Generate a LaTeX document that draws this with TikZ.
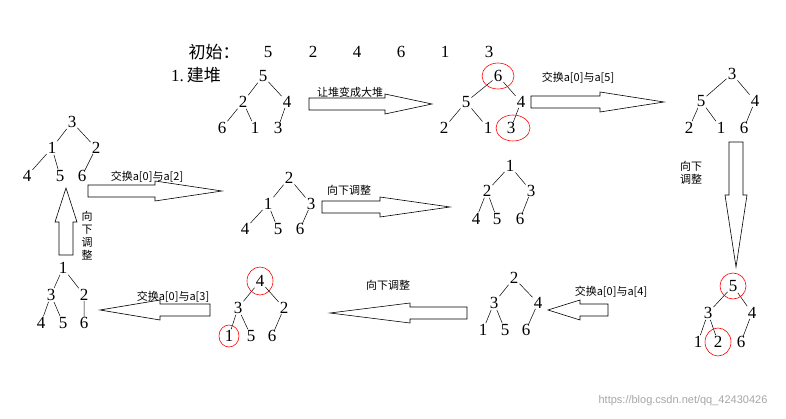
\documentclass[tikz,border=0pt]{standalone}
\usepackage{fontspec}
\setmainfont{Liberation Serif}
\newfontfamily\cjk{Noto Sans CJK SC}
\begin{document}
\begin{tikzpicture}[x=1pt,y=-1pt,
  num/.style={inner sep=1pt,font=\fontsize{17}{17}\selectfont},
  lbl/.style={inner sep=0pt,font=\cjk\fontsize{11}{13}\selectfont},
  barr/.style={draw=black,line width=0.6pt,fill=white},
  ring/.style={draw=red,line width=0.6pt},
  edge/.style={line width=0.5pt,shorten <=-1pt,shorten >=-1pt}]
\useasboundingbox (0,0) rectangle (786,419);
\newcommand\heap[7]{%
  \node[num] (#1a) at #2 {\mbox{}};}
\newcommand\hedges[1]{\draw[edge] (#10)--(#11) (#10)--(#12) (#11)--(#13) (#11)--(#14) (#12)--(#15);}
% arrows (right, left, down, up)
\newcommand\arrR[4]{\draw[barr] (#1,#3-6)--(#4,#3-6)--(#4,#3-10)--(#2,#3)--(#4,#3+10)--(#4,#3+6)--(#1,#3+6)--cycle;}
\newcommand\arrL[4]{\draw[barr] (#1,#3-6)--(#4,#3-6)--(#4,#3-10)--(#2,#3)--(#4,#3+10)--(#4,#3+6)--(#1,#3+6)--cycle;}
\newcommand\arrV[4]{\draw[barr] (#3-7,#1)--(#3-7,#4)--(#3-11,#4)--(#3,#2)--(#3+11,#4)--(#3+7,#4)--(#3+7,#1)--cycle;}
% title
\node[inner sep=0pt,font=\cjk\fontsize{17}{17}\selectfont] (t0) at (214,52) {初始：};
\foreach \v/\x in {5/268,2/313,4/357,6/401,1/445,3/489}
  \node[num] (t\v) at (\x,52) {\v};
\node[inner sep=0pt,font=\fontsize{17}{17}\selectfont] (t1b) at (196,75) {1.\,{\cjk 建堆}};
% trees
\foreach \n/\v/\x/\y in {
 A0/5/263/76, A1/2/243/102, A2/4/287/102, A3/6/222/128, A4/1/255/128, A5/3/278/128,
 B0/6/498/76, B1/5/466/102, B2/4/521/102, B3/2/444/128, B4/1/488/128, B5/3/511/128,
 C0/3/732/74, C1/5/701/101, C2/4/755/101, C3/2/689/128, C4/1/721/128, C5/6/744/128,
 D0/3/72/122, D1/1/52/148, D2/2/96/148, D3/4/27/176, D4/5/60/176, D5/6/82/176,
 E0/2/289/178, E1/1/268/204, E2/3/311/204, E3/4/245/229, E4/5/278/229, E5/6/300/229,
 F0/1/510/166, F1/2/487/191, F2/3/531/191, F3/4/476/219, F4/5/497/219, F5/6/520/219,
 G0/5/733/286, G1/3/708/313, G2/4/752/313, G3/1/698/342, G4/2/718/342, G5/6/741/342,
 H0/2/514/278, H1/3/494/303, H2/4/538/303, H3/1/483/330, H4/5/505/330, H5/6/526/330,
 I0/4/260/281, I1/3/238/308, I2/2/284/308, I3/1/229/336, I4/5/251/336, I5/6/272/336,
 J0/1/63/268, J1/3/51/295, J2/2/84/295, J3/4/41/323, J4/5/63/323, J5/6/84/323}
  \node[num] (\n) at (\x,\y) {\v};
\foreach \t in {A,B,C,D,E,F,G,H,I,J} {\hedges{\t}}
% red rings
\draw[ring] (B0) ellipse (16 and 13);
\draw[ring] (B5.center)+(2,0) ellipse (17 and 13);
\draw[ring] (G0) ellipse (13 and 13);
\draw[ring] (G4) ellipse (13 and 14);
\draw[ring] (I0) ellipse (13 and 14);
\draw[ring] (I3) ellipse (10 and 11);
% block arrows
\arrR{309}{432}{104}{385}
\arrR{531}{664}{102}{600}
\arrV{142}{267}{736}{195}
\arrR{88}{222}{191}{155}
\arrR{322}{450}{207}{380}
\arrV{255}{188}{66}{222}
\arrL{608}{548}{310}{580}
\arrL{467}{330}{313}{410}
\arrL{210}{100}{310}{160}
% labels
\node[lbl] (l1) at (350,92) {让堆变成大堆};
\node[lbl] (l2) at (578,78) {交换a[0]与a[5]};
\node[lbl,align=center] (l3) at (691,173) {向下\\调整};
\node[lbl] (l4) at (147,177) {交换a[0]与a[2]};
\node[lbl] (l5) at (349,190) {向下调整};
\node[lbl,align=center] (l6) at (87,236) {向\\下\\调\\整};
\node[lbl] (l7) at (611,292) {交换a[0]与a[4]};
\node[lbl] (l8) at (388,285) {向下调整};
\node[lbl] (l9) at (173,297) {交换a[0]与a[3]};
\node[inner sep=0pt,text=gray!70,font=\fontfamily{lmss}\fontsize{11}{11}\selectfont,font=\fontspec{Liberation Sans}\fontsize{11}{11}\selectfont] (wm) at (683,401) {https://blog.csdn.net/qq\_42430426};
\end{tikzpicture}
\end{document}
